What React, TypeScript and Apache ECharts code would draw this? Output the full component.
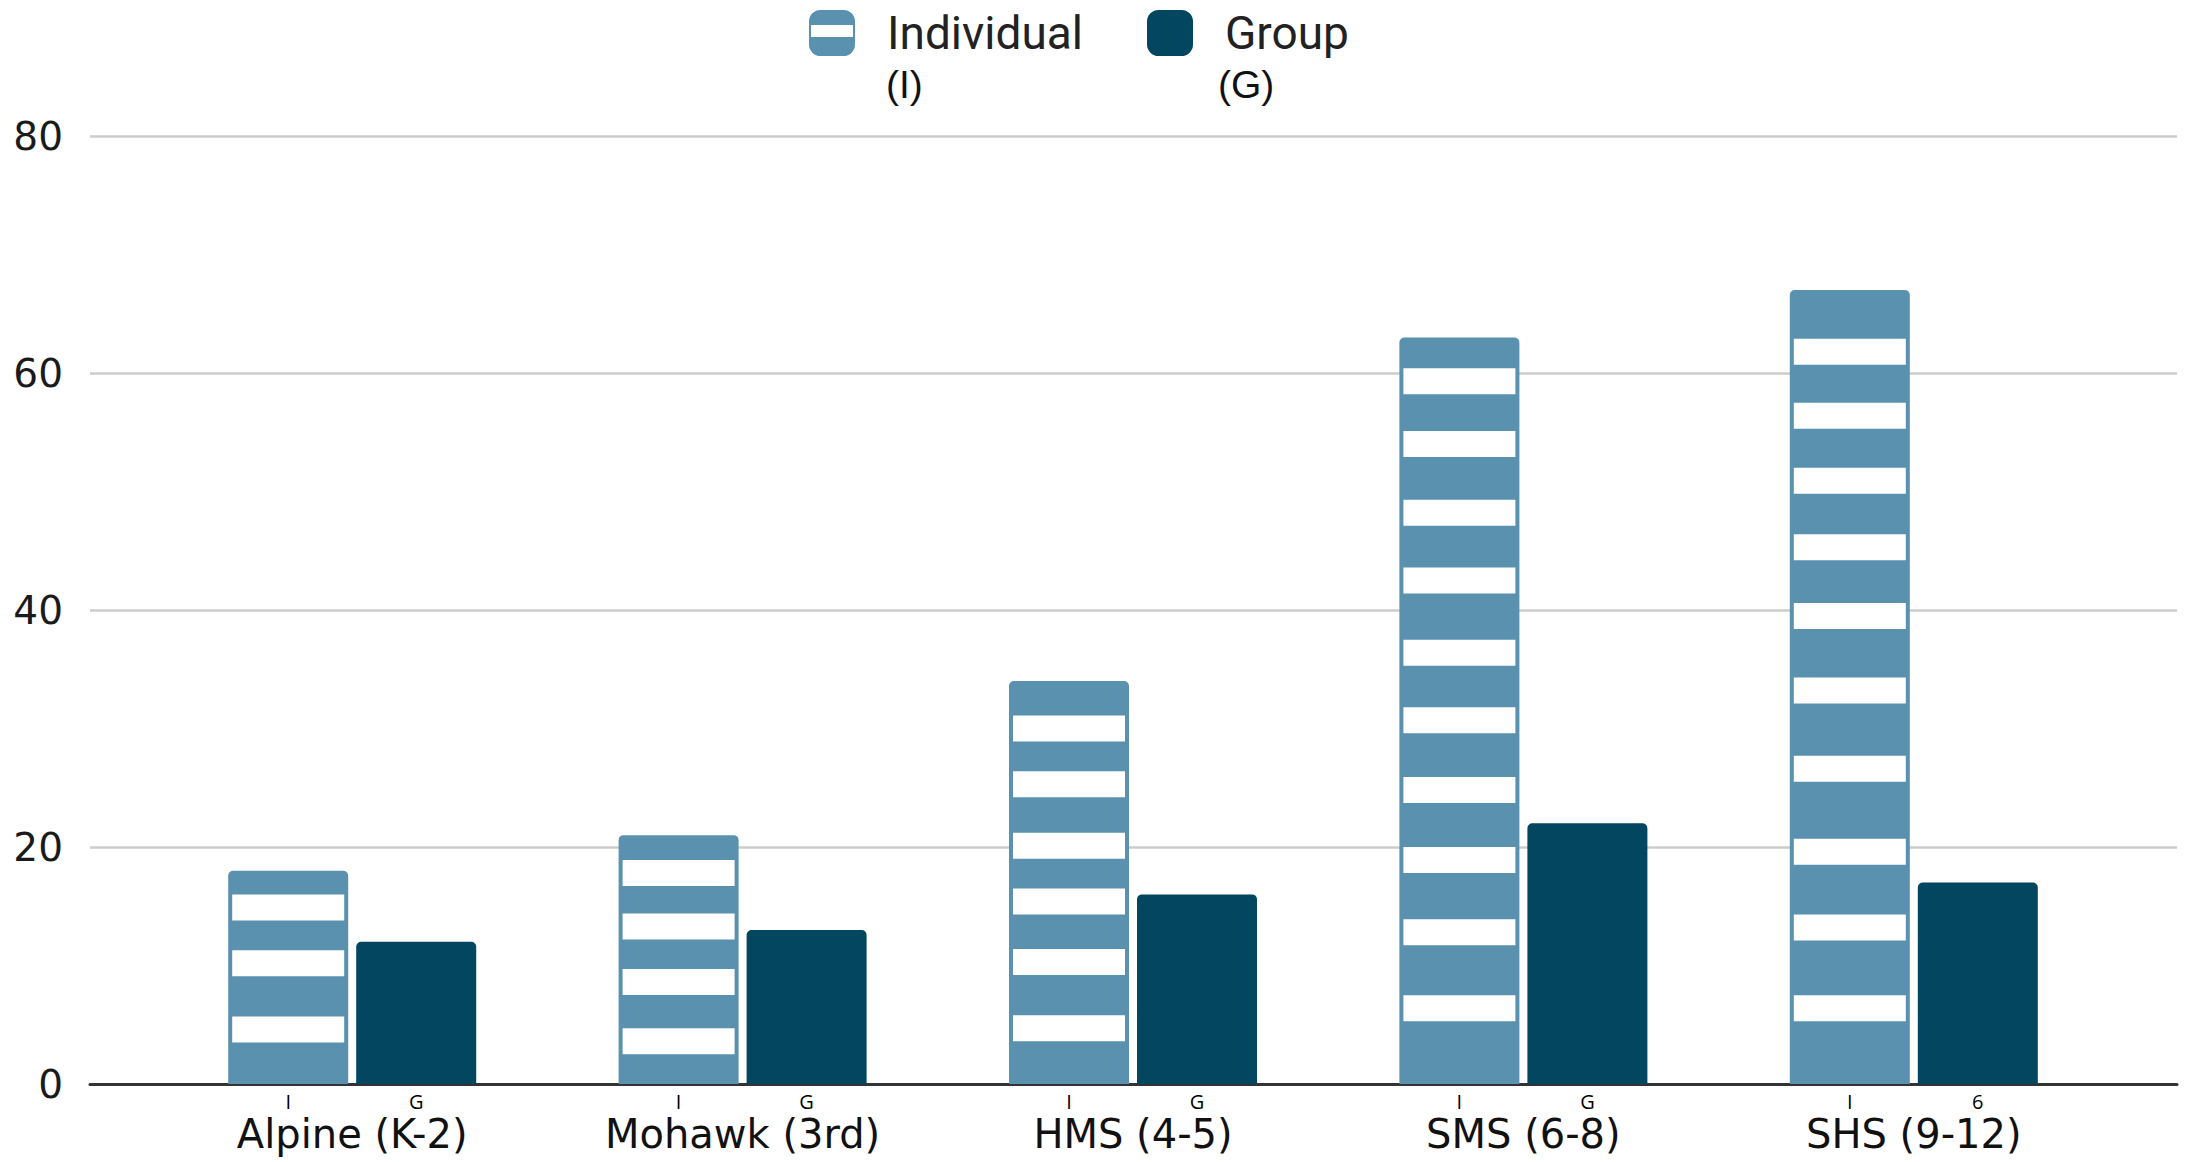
import React, { useEffect, useRef } from "react";
import * as echarts from "echarts";

// ---- data ----
const categories = ["Alpine (K-2)", "Mohawk (3rd)", "HMS (4-5)", "SMS (6-8)", "SHS (9-12)"];
const individualValues = [18, 21, 34, 63, 67];
const groupValues = [12, 13, 16, 22, 17];
const individualTags = ["I", "I", "I", "I", "I"];
const groupTags = ["G", "G", "G", "G", "6"];
const yMin = 0;
const yMax = 80;
const yInterval = 20;
// centres (in value units) of the white stripes drawn on each Individual bar
const stripeCentres: number[][] = [
  [14.9, 10.2, 4.6],
  [17.8, 13.3, 8.6, 3.6],
  [30.0, 25.3, 20.1, 15.4, 10.3, 4.7],
  [59.3, 54.0, 48.2, 42.5, 36.4, 30.7, 24.8, 18.9, 12.8, 6.4],
  [61.8, 56.4, 50.9, 45.3, 39.5, 33.2, 26.6, 19.6, 13.2, 6.4],
];
const legendSubLabels = ["(I)", "(G)"];

// ---- styles ----
const COLOR_I = "#5991AE";
const COLOR_G = "#03465F";
const BAR_W = 120;
const BAR_GAP_PX = 8;
const STRIPE_H = 26;
const STRIPE_INSET = 4;

export default function App() {
  const ref = useRef<HTMLDivElement>(null);

  useEffect(() => {
    if (!ref.current) return;
    const chart = echarts.init(ref.current, null, { renderer: "svg" });

    const stripeData: number[][] = [];
    stripeCentres.forEach((arr, ci) => arr.forEach((v) => stripeData.push([ci, v])));

    const tagLabel = (tags: string[]) => ({
      show: true,
      position: "bottom",
      distance: 7,
      formatter: (p: any) => tags[p.dataIndex],
      fontFamily: "Open Sans",
      fontSize: 20,
      color: "#000000",
    });

    const option: any = {
      animation: false,
      backgroundColor: "#ffffff",
      legend: {
        data: [
          { name: "Individual", icon: "roundRect" },
          { name: "Group", icon: "roundRect" },
        ],
        left: 809,
        top: 10,
        padding: 0,
        itemWidth: 46,
        itemHeight: 46,
        itemGap: 64,
        selectedMode: false,
        textStyle: {
          fontFamily: "Roboto",
          fontSize: 46,
          lineHeight: 46,
          color: "#222222",
          padding: [0, 0, 0, 27],
        },
      },
      graphic: [
        {
          type: "rect",
          z: 100,
          shape: { x: 811, y: 25, width: 42, height: 12 },
          style: { fill: "#ffffff" },
        },
        {
          type: "text",
          z: 100,
          x: 886,
          y: 84,
          style: {
            text: legendSubLabels[0],
            fontFamily: "Liberation Sans",
            fontSize: 39,
            fill: "#111111",
            verticalAlign: "middle",
          },
        },
        {
          type: "text",
          z: 100,
          x: 1218,
          y: 84,
          style: {
            text: legendSubLabels[1],
            fontFamily: "Liberation Sans",
            fontSize: 39,
            fill: "#111111",
            verticalAlign: "middle",
          },
        },
      ],
      grid: [
        { left: 90, right: 8, top: 136, bottom: 78 },
        { left: 157, right: 76, top: 136, bottom: 78 },
      ],
      xAxis: [
        {
          type: "value",
          gridIndex: 0,
          min: 0,
          max: 1,
          axisLine: { show: true, lineStyle: { color: "#333333", width: 3 } },
          axisTick: { show: false },
          axisLabel: { show: false },
          splitLine: { show: false },
        },
        {
          type: "category",
          gridIndex: 1,
          data: categories,
          axisLine: { show: false },
          axisTick: { show: false },
          axisLabel: {
            fontFamily: "DejaVu Sans",
            fontSize: 40,
            color: "#111111",
            margin: 30,
          },
        },
      ],
      yAxis: [
        {
          type: "value",
          gridIndex: 0,
          min: yMin,
          max: yMax,
          interval: yInterval,
          axisLine: { show: false },
          axisTick: { show: false },
          axisLabel: {
            fontFamily: "DejaVu Sans",
            fontSize: 39,
            color: "#1a1a1a",
            margin: 27,
          },
          splitLine: { show: true, lineStyle: { color: "#cccccc", width: 2.5 } },
        },
        {
          type: "value",
          gridIndex: 1,
          min: yMin,
          max: yMax,
          interval: yInterval,
          axisLine: { show: false },
          axisTick: { show: false },
          axisLabel: { show: false },
          splitLine: { show: false },
        },
      ],
      series: [
        {
          name: "Individual",
          type: "bar",
          xAxisIndex: 1,
          yAxisIndex: 1,
          data: individualValues,
          barWidth: BAR_W,
          barGap: ((BAR_GAP_PX / BAR_W) * 100).toFixed(2) + "%",
          itemStyle: { color: COLOR_I, borderRadius: [5, 5, 0, 0] },
          label: tagLabel(individualTags),
          z: 2,
        },
        {
          name: "Group",
          type: "bar",
          xAxisIndex: 1,
          yAxisIndex: 1,
          data: groupValues,
          barWidth: BAR_W,
          barGap: ((BAR_GAP_PX / BAR_W) * 100).toFixed(2) + "%",
          itemStyle: { color: COLOR_G, borderRadius: [5, 5, 0, 0] },
          label: tagLabel(groupTags),
          z: 2,
        },
        {
          name: "stripes",
          type: "custom",
          xAxisIndex: 1,
          yAxisIndex: 1,
          data: stripeData,
          z: 5,
          silent: true,
          renderItem: (params: any, api: any) => {
            const pt = api.coord([api.value(0), api.value(1)]);
            const cx = pt[0] - (BAR_W + BAR_GAP_PX) / 2;
            return {
              type: "rect",
              shape: {
                x: cx - BAR_W / 2 + STRIPE_INSET,
                y: pt[1] - STRIPE_H / 2,
                width: BAR_W - 2 * STRIPE_INSET,
                height: STRIPE_H,
              },
              style: { fill: "#ffffff" },
            };
          },
        },
      ],
    };

    chart.setOption(option);
    return () => chart.dispose();
  }, []);

  return (
    <div
      ref={ref}
      style={{ position: "absolute", left: 0, top: 0, width: 2185, height: 1162 }}
    />
  );
}
